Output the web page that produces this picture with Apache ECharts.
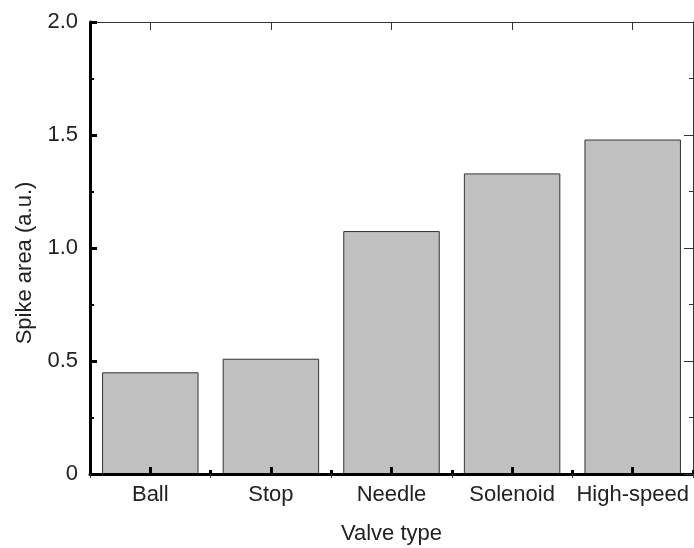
<!DOCTYPE html>
<html>
<head>
<meta charset="utf-8">
<script src="https://cdn.jsdelivr.net/npm/echarts@6/dist/echarts.min.js"></script>
<style>
  html, body { margin: 0; padding: 0; background: #fff; }
  #chart { width: 694px; height: 548px; }
</style>
</head>
<body>
<div id="chart"></div>
<script>
const categories = ['Ball', 'Stop', 'Needle', 'Solenoid', 'High-speed'];
const spikeArea = [0.45, 0.51, 1.075, 1.33, 1.48];
const yTicks = [0, 0.5, 1.0, 1.5, 2.0];

const fontName = 'Liberation Sans';
const fontSize = 22;

let chartDom = document.getElementById('chart');
let chart = echarts.init(chartDom);

// thin frame axes (top / right) and tick-only helper axes
function catAxis(pos, opts) {
    return Object.assign({
        type: 'category',
        position: pos,
        data: categories,
        z: 5,
        axisLine: { show: false },
        axisTick: { show: false },
        axisLabel: { show: false },
        splitLine: { show: false }
    }, opts);
}

let option = {
    backgroundColor: '#fff',
    animation: false,
    textStyle: { fontFamily: fontName },
    grid: { left: 90, right: 1, top: 22, bottom: 74, outerBoundsMode: 'none' },
    xAxis: [
        catAxis('bottom', {
            axisLine: { show: true, onZero: false, lineStyle: { color: '#000', width: 3 } },
            axisTick: { show: true, inside: true, interval: 0, alignWithLabel: true, length: 7, lineStyle: { color: '#000', width: 3 } },
            axisLabel: { show: true, interval: 0, color: '#222', fontSize: fontSize, fontFamily: fontName, margin: 10 },
            name: 'Valve type',
            nameLocation: 'middle',
            nameGap: 49,
            nameTextStyle: { color: '#222', fontSize: fontSize, fontFamily: fontName }
        }),
        catAxis('bottom', {
            axisTick: { show: true, inside: true, interval: 0, length: 4, lineStyle: { color: '#000', width: 3 } }
        }),
        catAxis('top', {
            axisLine: { show: true, onZero: false, lineStyle: { color: '#333', width: 1 } },
            axisTick: { show: true, inside: true, interval: 0, alignWithLabel: true, length: 8, lineStyle: { color: '#333', width: 1 } }
        }),
        catAxis('top', {
            axisTick: { show: true, inside: true, interval: 0, length: 4, lineStyle: { color: '#333', width: 1 } }
        })
    ],
    yAxis: [
        {
            type: 'value',
            position: 'left',
            min: 0,
            max: 2,
            interval: 0.5,
            z: 5,
            name: 'Spike area (a.u.)',
            nameLocation: 'middle',
            nameGap: 54,
            nameTextStyle: { color: '#222', fontSize: fontSize, fontFamily: fontName, padding: [0, 30, 0, 0] },
            axisLine: { show: true, onZero: false, lineStyle: { color: '#000', width: 3 } },
            axisTick: { show: true, inside: true, length: 7, lineStyle: { color: '#000', width: 3 } },
            minorTick: { show: true, splitNumber: 2, length: 4, lineStyle: { color: '#000', width: 2 } },
            axisLabel: {
                color: '#222',
                fontSize: fontSize,
                fontFamily: fontName,
                margin: 12,
                formatter: v => (yTicks.indexOf(v) === 0 ? '0' : v.toFixed(1))
            },
            splitLine: { show: false }
        },
        {
            type: 'value',
            position: 'right',
            min: 0,
            max: 2,
            interval: 0.5,
            z: 5,
            axisLine: { show: true, onZero: false, lineStyle: { color: '#333', width: 1 } },
            axisTick: { show: true, inside: true, length: 9, lineStyle: { color: '#333', width: 1 } },
            minorTick: { show: true, splitNumber: 2, length: 4, lineStyle: { color: '#333', width: 1 } },
            axisLabel: { show: false },
            splitLine: { show: false }
        }
    ],
    series: [
        {
            name: 'Spike area',
            type: 'bar',
            xAxisIndex: 0,
            yAxisIndex: 0,
            barWidth: '80%',
            data: spikeArea,
            itemStyle: {
                color: '#c0c0c0',
                borderColor: '#333',
                borderWidth: 1
            }
        }
    ]
};

chart.setOption(option);

window.addEventListener('resize', () => {
    chart.resize();
});
</script>
</body>
</html>
